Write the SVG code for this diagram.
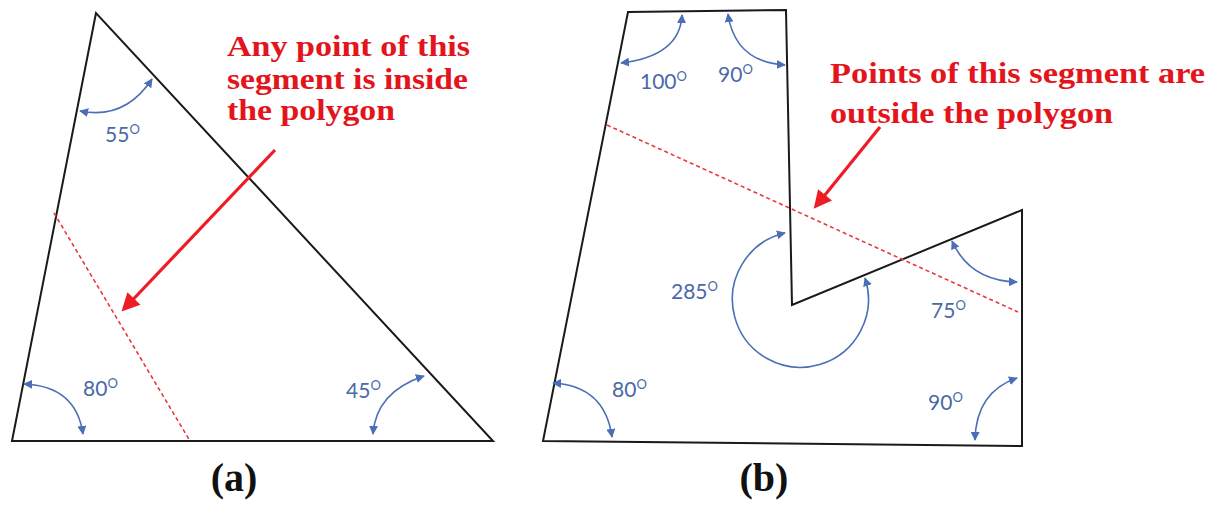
<svg xmlns="http://www.w3.org/2000/svg" width="1216" height="506" viewBox="0 0 1216 506">
<style>
.shape{fill:none;stroke:#1a1a1a;stroke-width:2;stroke-linejoin:miter}
.dash{fill:none;stroke:#e8383d;stroke-width:1.6;stroke-dasharray:4 3}
.ang{fill:none;stroke:#4a6fb5;stroke-width:1.6;marker-start:url(#ba);marker-end:url(#ba)}
.deg{font-family:Lato,"Open Sans",sans-serif;font-size:21px;fill:#4a69a8}
.sup{font-size:13px}
.note{font-family:"Liberation Serif","Times New Roman",serif;font-weight:bold;font-size:29px;fill:#e3141c}
.cap{font-family:"Liberation Serif","Times New Roman",serif;font-weight:bold;font-size:40px;fill:#111;text-anchor:middle}
.red{fill:none;stroke:#ee1c24;stroke-width:3.2;marker-end:url(#ra)}
</style>
<defs>
<marker id="ba" viewBox="0 0 10 10" refX="9" refY="5" markerWidth="9" markerHeight="9" markerUnits="userSpaceOnUse" orient="auto-start-reverse">
<path d="M0,0 L10,5 L0,10 z" fill="#4a6fb5"/>
</marker>
<marker id="ra" viewBox="0 0 10 10" refX="8" refY="5" markerWidth="20" markerHeight="18" markerUnits="userSpaceOnUse" orient="auto">
<path d="M0,0 L10,5 L0,10 z" fill="#ee1c24"/>
</marker>
</defs>
<rect width="1216" height="506" fill="#ffffff"/>

<g id="triangle-a">
<polygon class="shape" points="96,13 12,441 493,441"/>
<line class="dash" x1="54" y1="213" x2="190" y2="441"/>
<path class="ang" d="M80,111 Q125,120 152,79"/>
<text class="deg" x="105" y="142">55<tspan class="sup" dy="-8">O</tspan></text>
<path class="ang" d="M24,384 Q76,386 83,434"/>
<text class="deg" x="83" y="396">80<tspan class="sup" dy="-8">O</tspan></text>
<path class="ang" d="M424,376 Q376,392 373,434"/>
<text class="deg" x="346" y="398">45<tspan class="sup" dy="-8">O</tspan></text>
</g>

<g id="note-a">
<text class="note" x="227" y="56" textLength="243" lengthAdjust="spacingAndGlyphs">Any point of this</text>
<text class="note" x="227" y="89" textLength="241" lengthAdjust="spacingAndGlyphs">segment is inside</text>
<text class="note" x="227" y="120" textLength="168" lengthAdjust="spacingAndGlyphs">the polygon</text>
</g>

<g id="polygon-b">
<polygon class="shape" points="628,12 786,10 792,305 1022,210 1022,446 543,441"/>
<line class="dash" x1="607" y1="125" x2="1018" y2="312"/>
<path class="ang" d="M621,63 Q680,56 682,15"/>
<text class="deg" x="640" y="89">100<tspan class="sup" dy="-8">O</tspan></text>
<path class="ang" d="M728,14 Q735,62 785,65"/>
<text class="deg" x="718" y="82">90<tspan class="sup" dy="-8">O</tspan></text>
<path class="ang" d="M785,233 A68,68 0 1 0 865,278"/>
<text class="deg" x="671" y="299">285<tspan class="sup" dy="-8">O</tspan></text>
<path class="ang" d="M553,383 Q605,386 612,437"/>
<text class="deg" x="612" y="397">80<tspan class="sup" dy="-8">O</tspan></text>
<path class="ang" d="M952,241 Q970,281 1017,282"/>
<text class="deg" x="931" y="318">75<tspan class="sup" dy="-8">O</tspan></text>
<path class="ang" d="M1017,378 Q976,392 975,440"/>
<text class="deg" x="928" y="410">90<tspan class="sup" dy="-8">O</tspan></text>
</g>

<g id="note-b">
<text class="note" x="830" y="83" textLength="375" lengthAdjust="spacingAndGlyphs">Points of this segment are</text>
<text class="note" x="830" y="123" textLength="283" lengthAdjust="spacingAndGlyphs">outside the polygon</text>
</g>

<g id="connectors">
<line class="red" x1="275" y1="150" x2="124" y2="309"/>
<line class="red" x1="880" y1="127" x2="816" y2="206"/>
</g>

<g id="captions">
<text class="cap" x="234" y="491">(a)</text>
<text class="cap" x="764" y="491">(b)</text>
</g>
</svg>
